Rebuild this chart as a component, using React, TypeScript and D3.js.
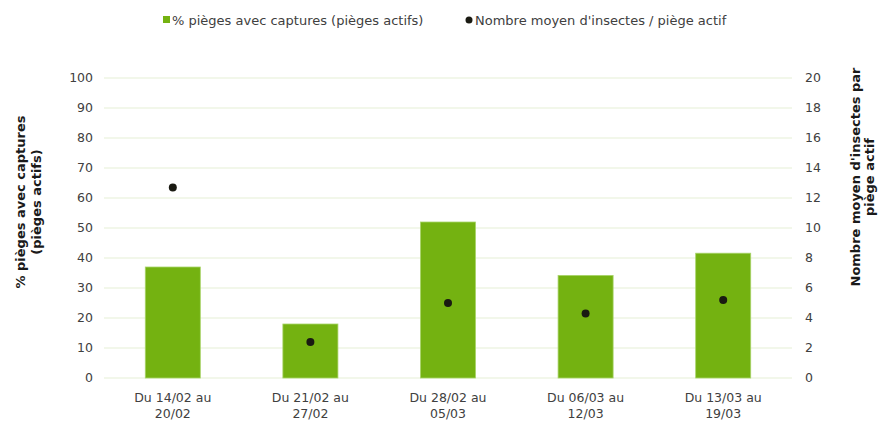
import React, { useEffect, useRef } from 'react';
import * as d3 from 'd3';

const periods = [
  ['Du 14/02 au', '20/02'],
  ['Du 21/02 au', '27/02'],
  ['Du 28/02 au', '05/03'],
  ['Du 06/03 au', '12/03'],
  ['Du 13/03 au', '19/03'],
];
const pctCaptures = [37, 18, 52, 34.2, 41.6];
const meanInsects = [12.7, 2.4, 5.0, 4.3, 5.2];
const leftTicks = [0, 10, 20, 30, 40, 50, 60, 70, 80, 90, 100];
const rightTicks = [0, 2, 4, 6, 8, 10, 12, 14, 16, 18, 20];

const App = () => {
  const ref = useRef<SVGSVGElement | null>(null);

  useEffect(() => {
    const svgWidth = 879;
    const svgHeight = 421;
    const margin = { top: 78, right: 87, bottom: 43, left: 104 };
    const width = svgWidth - margin.left - margin.right;
    const height = svgHeight - margin.top - margin.bottom;
    const font = 'DejaVu Sans, Verdana, sans-serif';
    const textColor = '#404040';

    const root = d3.select(ref.current);
    root.selectAll('*').remove();
    const svg = root.append('g').attr('transform', `translate(${margin.left},${margin.top})`);

    const x = d3
      .scaleBand<number>()
      .domain(periods.map((_, i) => i))
      .range([0, width])
      .paddingInner(0.6)
      .paddingOuter(0.3);

    const yL = d3.scaleLinear().domain([0, 100]).range([height, 0]);
    const yR = d3.scaleLinear().domain([0, 20]).range([height, 0]);

    // gridlines
    svg
      .selectAll('.grid')
      .data(leftTicks)
      .enter()
      .append('line')
      .attr('x1', 0)
      .attr('x2', width)
      .attr('y1', (d) => yL(d))
      .attr('y2', (d) => yL(d))
      .attr('stroke', '#e5f0d6')
      .attr('stroke-width', 1.2);

    // left ticks
    svg
      .selectAll('.tl')
      .data(leftTicks)
      .enter()
      .append('text')
      .attr('x', -11)
      .attr('y', (d) => yL(d))
      .attr('dy', '0.35em')
      .attr('text-anchor', 'end')
      .style('font-family', font)
      .style('font-size', '12.5px')
      .style('fill', textColor)
      .text((d) => d);

    // right ticks
    svg
      .selectAll('.tr')
      .data(rightTicks)
      .enter()
      .append('text')
      .attr('x', width + 13)
      .attr('y', (d) => yR(d))
      .attr('dy', '0.35em')
      .attr('text-anchor', 'start')
      .style('font-family', font)
      .style('font-size', '12.5px')
      .style('fill', textColor)
      .text((d) => d);

    // bars
    svg
      .selectAll('.bar')
      .data(pctCaptures)
      .enter()
      .append('rect')
      .attr('x', (_, i) => x(i) as number)
      .attr('y', (d) => yL(d))
      .attr('width', x.bandwidth())
      .attr('height', (d) => height - yL(d))
      .attr('fill', '#74b211')
      .attr('stroke', '#a9d46a')
      .attr('stroke-width', 0.8);

    // dots
    svg
      .selectAll('.dot')
      .data(meanInsects)
      .enter()
      .append('circle')
      .attr('cx', (_, i) => (x(i) as number) + x.bandwidth() / 2)
      .attr('cy', (d) => yR(d))
      .attr('r', 4)
      .attr('fill', '#1a1a12');

    // x labels
    const xl = svg
      .selectAll('.xl')
      .data(periods)
      .enter()
      .append('text')
      .attr('text-anchor', 'middle')
      .style('font-family', font)
      .style('font-size', '12.5px')
      .style('fill', textColor);
    xl.append('tspan')
      .attr('x', (_, i) => (x(i) as number) + x.bandwidth() / 2)
      .attr('y', height + 24)
      .text((d) => d[0]);
    xl.append('tspan')
      .attr('x', (_, i) => (x(i) as number) + x.bandwidth() / 2)
      .attr('y', height + 40)
      .text((d) => d[1]);

    // axis titles
    const lt = root
      .append('text')
      .attr('transform', 'translate(0,202) rotate(-90)')
      .attr('text-anchor', 'middle')
      .style('font-family', font)
      .style('font-size', '13px')
      .style('font-weight', 'bold')
      .style('fill', '#1a1a1a');
    lt.append('tspan').attr('x', 0).attr('y', 25).text('% pièges avec captures');
    lt.append('tspan').attr('x', 0).attr('y', 41).text('(pièges actifs)');

    const rt = root
      .append('text')
      .attr('transform', 'translate(0,177) rotate(-90)')
      .attr('text-anchor', 'middle')
      .style('font-family', font)
      .style('font-size', '13px')
      .style('font-weight', 'bold')
      .style('fill', '#1a1a1a');
    rt.append('tspan').attr('x', 0).attr('y', 860).text("Nombre moyen d'insectes par");
    rt.append('tspan').attr('x', 0).attr('y', 874).text('piège actif');

    // legend
    const lg = root.append('g').attr('transform', 'translate(0,20)');
    lg.append('rect').attr('x', 163).attr('y', -4).attr('width', 7).attr('height', 7).attr('fill', '#74b211');
    lg.append('text')
      .attr('x', 172)
      .attr('y', 0)
      .attr('dy', '0.35em')
      .style('font-family', font)
      .style('font-size', '13px')
      .style('fill', textColor)
      .text('% pièges avec captures (pièges actifs)');
    lg.append('circle').attr('cx', 469).attr('cy', 0).attr('r', 3.5).attr('fill', '#1a1a12');
    lg.append('text')
      .attr('x', 475)
      .attr('y', 0)
      .attr('dy', '0.35em')
      .style('font-family', font)
      .style('font-size', '13px')
      .style('fill', textColor)
      .text("Nombre moyen d'insectes / piège actif");
  }, []);

  return (
    <svg
      ref={ref}
      width={879}
      height={421}
      style={{ position: 'absolute', left: 0, top: 0, background: '#fff' }}
    />
  );
};

export default App;
